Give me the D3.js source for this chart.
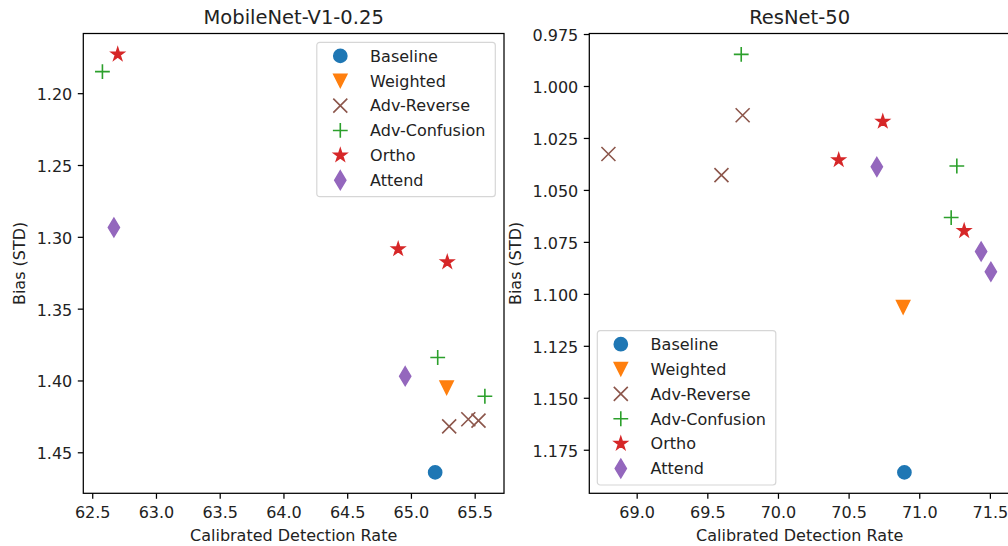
<!DOCTYPE html>
<html>
<head>
<meta charset="utf-8">
<script src="https://cdn.jsdelivr.net/npm/d3@7"></script>
<style>
	body { margin: 0; background: #fff; }
	svg { display: block; font-family: "DejaVu Sans", sans-serif; }
</style>
</head>
<body>
<svg id="viz" width="1008" height="546"></svg>
<script>
var methods = ["Baseline", "Weighted", "Adv-Reverse", "Adv-Confusion", "Ortho", "Attend"];
var methodColors = ["#1f77b4", "#ff7f0e", "#8c564b", "#2ca02c", "#d62728", "#9467bd"];
var methodMarkers = ["circle", "triangleDown", "x", "plus", "star", "thinDiamond"];

// [method, calibrated detection rate, bias (std)]
var mobilenetPoints = [
	["Baseline", 65.19, 1.464],
	["Weighted", 65.28, 1.405],
	["Adv-Reverse", 65.30, 1.432],
	["Adv-Reverse", 65.45, 1.427],
	["Adv-Reverse", 65.53, 1.428],
	["Adv-Confusion", 62.58, 1.185],
	["Adv-Confusion", 65.21, 1.384],
	["Adv-Confusion", 65.58, 1.411],
	["Ortho", 62.70, 1.173],
	["Ortho", 64.90, 1.3085],
	["Ortho", 65.285, 1.3176],
	["Attend", 62.67, 1.2935],
	["Attend", 64.955, 1.397]
];
var resnetPoints = [
	["Baseline", 70.895, 1.1859],
	["Weighted", 70.886, 1.1064],
	["Adv-Reverse", 68.80, 1.0327],
	["Adv-Reverse", 69.60, 1.0429],
	["Adv-Reverse", 69.75, 1.0141],
	["Adv-Confusion", 69.74, 0.9848],
	["Adv-Confusion", 71.266, 1.0385],
	["Adv-Confusion", 71.226, 1.0633],
	["Ortho", 70.742, 1.0171],
	["Ortho", 70.43, 1.0356],
	["Ortho", 71.318, 1.0697],
	["Attend", 70.70, 1.0389],
	["Attend", 71.438, 1.0796],
	["Attend", 71.507, 1.0894]
];

var mobilenetXTicks = [62.5, 63.0, 63.5, 64.0, 64.5, 65.0, 65.5];
var mobilenetYTicks = [1.20, 1.25, 1.30, 1.35, 1.40, 1.45];
var resnetXTicks = [69.0, 69.5, 70.0, 70.5, 71.0, 71.5];
var resnetYTicks = [0.975, 1.000, 1.025, 1.050, 1.075, 1.100, 1.125, 1.150, 1.175];

var svg = d3.select("#viz");
var fontSize = 16,
	titleSize = 19.5,
	axTop = 33.5,
	axBottom = 493.3,
	axWidth = 420.7;

drawPanel({
	title: "MobileNet-V1-0.25",
	points: mobilenetPoints,
	xTicks: mobilenetXTicks,
	yTicks: mobilenetYTicks,
	yFormat: ".2f",
	left: 83.3,
	legend: "upper right"
});
drawPanel({
	title: "ResNet-50",
	points: resnetPoints,
	xTicks: resnetXTicks,
	yTicks: resnetYTicks,
	yFormat: ".3f",
	left: 589.3,
	legend: "lower left"
});

function padded(ext) {
	var m = (ext[1] - ext[0]) * 0.05;
	return [ext[0] - m, ext[1] + m];
}

function drawPanel(cfg) {
	var left = cfg.left, right = cfg.left + axWidth;
	var x = d3.scaleLinear()
		.domain(padded(d3.extent(cfg.points, function (p) { return p[1]; })))
		.range([left, right]);
	var y = d3.scaleLinear()
		.domain(padded(d3.extent(cfg.points, function (p) { return p[2]; })))
		.range([axTop, axBottom]);

	var panel = svg.append("g").attr("class", "panel");

	// points
	panel.append("g")
		.selectAll("path")
		.data(cfg.points)
		.enter().append("path")
		.attr("transform", function (p) { return "translate(" + x(p[1]) + "," + y(p[2]) + ")"; })
		.each(function (p) { styleMarker(d3.select(this), methods.indexOf(p[0])); });

	// axes
	var xAxis = panel.append("g")
		.attr("transform", "translate(0," + axBottom + ")")
		.call(d3.axisBottom(x).tickValues(cfg.xTicks).tickFormat(d3.format(".1f"))
			.tickSizeInner(5.5).tickSizeOuter(0).tickPadding(5.5));
	xAxis.selectAll("text").attr("y", 25).attr("dy", null);

	var yAxis = panel.append("g")
		.attr("transform", "translate(" + left + ",0)")
		.call(d3.axisLeft(y).tickValues(cfg.yTicks).tickFormat(d3.format(cfg.yFormat))
			.tickSizeInner(5.5).tickSizeOuter(0).tickPadding(5.5));
	yAxis.selectAll("text").attr("dy", "0.4em");

	[xAxis, yAxis].forEach(function (a) {
		a.select(".domain").remove();
		a.attr("font-family", null).attr("font-size", null);
		a.selectAll("line").attr("stroke", "#000").attr("stroke-width", 1.25);
		a.selectAll("text").attr("fill", "#222").style("font-size", fontSize + "px");
	});

	// spines
	panel.append("rect")
		.attr("x", left).attr("y", axTop)
		.attr("width", axWidth).attr("height", axBottom - axTop)
		.attr("fill", "none").attr("stroke", "#000").attr("stroke-width", 1.25);

	// title and labels
	panel.append("text")
		.attr("x", (left + right) / 2).attr("y", axTop - 9.5)
		.attr("text-anchor", "middle")
		.attr("fill", "#222")
		.style("font-size", titleSize + "px")
		.text(cfg.title);
	panel.append("text")
		.attr("x", (left + right) / 2).attr("y", 541)
		.attr("text-anchor", "middle")
		.attr("fill", "#222")
		.style("font-size", fontSize + "px")
		.text("Calibrated Detection Rate");
	var tickBox = yAxis.node().getBBox();
	var labelX = left + tickBox.x - 6.3 - 5.5;
	panel.append("text")
		.attr("transform", "translate(" + labelX + "," + ((axTop + axBottom) / 2) + ") rotate(-90)")
		.attr("text-anchor", "middle")
		.attr("fill", "#222")
		.style("font-size", fontSize + "px")
		.text("Bias (STD)");

	// legend
	var lw = 178.5, lh = 154.4, lx, ly;
	if (cfg.legend == "upper right") { lx = right - 8.7 - lw; ly = axTop + 8.8; }
	else { lx = left + 8; ly = axBottom - 8.3 - lh; }
	var legend = panel.append("g").attr("transform", "translate(" + lx + "," + ly + ")");
	legend.append("rect")
		.attr("width", lw).attr("height", lh)
		.attr("rx", 3).attr("ry", 3)
		.attr("fill", "#fff").attr("fill-opacity", 0.8)
		.attr("stroke", "#d6d6d6").attr("stroke-width", 1.2);
	var row = legend.selectAll("g.row")
		.data(methods)
		.enter().append("g")
		.attr("class", "row")
		.attr("transform", function (m, i) { return "translate(0," + (13.6 + i * 24.85) + ")"; });
	row.append("path")
		.attr("transform", "translate(23.5,0)")
		.each(function (m, i) { styleMarker(d3.select(this), i); });
	row.append("text")
		.attr("x", 53.3).attr("dy", "0.36em")
		.attr("fill", "#222")
		.style("font-size", fontSize + "px")
		.text(function (m) { return m; });
}

function styleMarker(sel, i) {
	var type = methodMarkers[i], color = methodColors[i];
	sel.attr("d", markerPath(type));
	if (type == "x" || type == "plus") {
		sel.attr("fill", "none").attr("stroke", color).attr("stroke-width", 1.6);
	} else {
		sel.attr("fill", color).attr("stroke", color).attr("stroke-width", 1.5)
			.attr("stroke-linejoin", "miter");
	}
}

function markerPath(type) {
	var h = 6.6, p = d3.path();
	if (type == "circle") {
		p.moveTo(h, 0);
		p.arc(0, 0, h, 0, 2 * Math.PI);
	} else if (type == "triangleDown") {
		p.moveTo(-h, -h); p.lineTo(h, -h); p.lineTo(0, h); p.closePath();
	} else if (type == "x") {
		var a = 7.0;
		p.moveTo(-a, -a); p.lineTo(a, a);
		p.moveTo(-a, a); p.lineTo(a, -a);
	} else if (type == "plus") {
		var b = 7.4;
		p.moveTo(-b, 0); p.lineTo(b, 0);
		p.moveTo(0, -b); p.lineTo(0, b);
	} else if (type == "star") {
		for (var k = 0; k < 10; k++) {
			var r = k % 2 ? h * 0.381966 : h,
				ang = -Math.PI / 2 + k * Math.PI / 5;
			if (k == 0) p.moveTo(r * Math.cos(ang), r * Math.sin(ang));
			else p.lineTo(r * Math.cos(ang), r * Math.sin(ang));
		}
		p.closePath();
	} else if (type == "thinDiamond") {
		var dh = 13.2 * Math.SQRT1_2, dw = dh * 0.6;
		p.moveTo(0, -dh); p.lineTo(dw, 0); p.lineTo(0, dh); p.lineTo(-dw, 0); p.closePath();
	}
	return p.toString();
}
</script>
</body>
</html>
